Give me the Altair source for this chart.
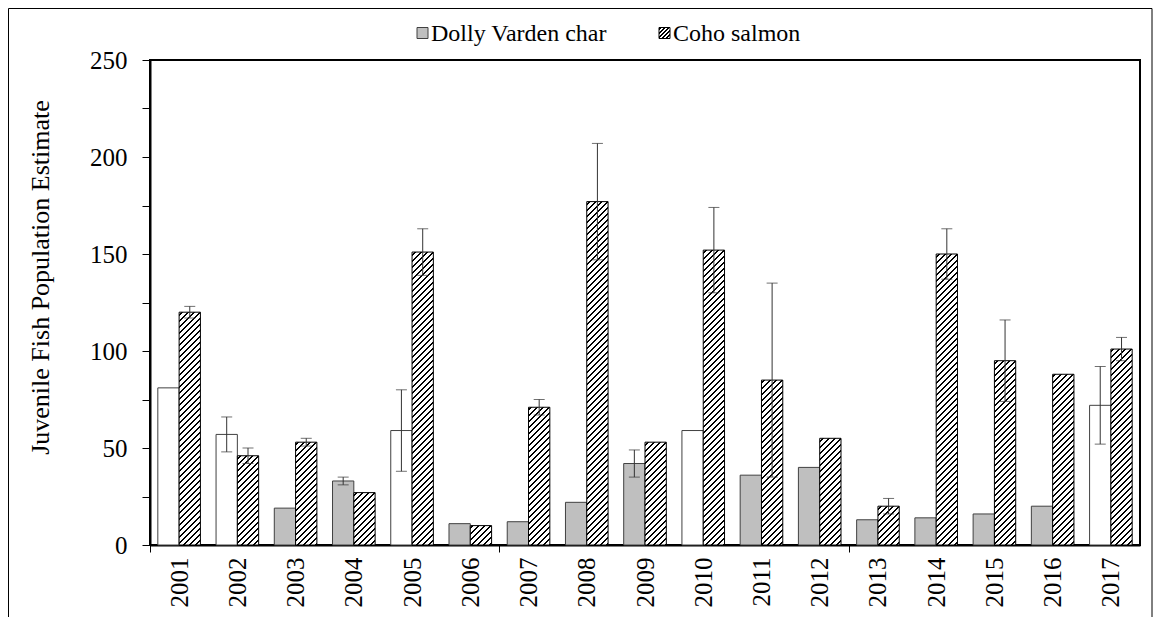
import altair as alt

# ---------------- data ----------------
years = [str(y) for y in range(2001, 2018)]
species = ["Dolly Varden char", "Coho salmon"]

dolly = [81, 57, 19, 33, 59, 11, 12, 22, 42, 59, 36, 40, 13, 14, 16, 20, 72]
dolly_err = [None, 9, None, 2, 21, None, None, None, 7, None, None, None, None, None, None, None, 20]
# True where the Dolly Varden bar is drawn open (white) in the original
dolly_open = [True, True, False, False, True, False, False, False, False, True,
              False, False, False, False, False, False, True]

coho = [120, 46, 53, 27, 151, 10, 71, 177, 53, 152, 85, 55, 20, 150, 95, 88, 101]
coho_err = [3, 4, 2, None, 12, None, 4, 30, None, 22, 50, None, 4, 13, 21, None, 6]

# ---------------- layout constants ----------------
PLOT_W, PLOT_H = 990, 485
Y_MAX = 250
OFF_PAD = 0.367
BAND = PLOT_W / len(years)
BAR_W = BAND / (2 + 2 * OFF_PAD)
PX_PER_UNIT = PLOT_H / Y_MAX
FONT = "Liberation Serif"
GRAY = "#BFBFBF"


def hatch_gradient(w, h, period=6.0, lw=2.0):
    """Diagonal '/' hatching as a hard-stop linear gradient in bbox units."""
    L = w + h
    s = L / (w * w + h * h)
    stops = [{"offset": 0, "color": "white"}]
    c = period / 2.0
    while c - lw / 2 < L:
        a = max(c - lw / 2, 0) / L
        b = min(c + lw / 2, L) / L
        stops += [
            {"offset": round(a, 5), "color": "white"},
            {"offset": round(a, 5), "color": "black"},
            {"offset": round(b, 5), "color": "black"},
            {"offset": round(b, 5), "color": "white"},
        ]
        c += period
    stops.append({"offset": 1, "color": "white"})
    return {"gradient": "linear", "x1": 0, "y1": 0,
            "x2": round(s * w, 6), "y2": round(s * h, 6), "stops": stops}


rows = []
for i, yr in enumerate(years):
    rows.append({"year": yr, "species": species[0], "value": dolly[i],
                 "err": dolly_err[i],
                 "fillv": "white" if dolly_open[i] else GRAY,
                 "strokev": "#404040"})
    rows.append({"year": yr, "species": species[1], "value": coho[i],
                 "err": coho_err[i],
                 "fillv": hatch_gradient(BAR_W, coho[i] * PX_PER_UNIT),
                 "strokev": "black"})

err_rows = [{"year": r["year"], "species": r["species"], "value": r["value"], "err": r["err"]}
            for r in rows if r["err"] is not None]

bars_data = alt.Data(values=rows)
err_data = alt.Data(values=err_rows)

x_enc = alt.X(
    "year:N",
    sort=years,
    title=None,
    scale=alt.Scale(paddingInner=0, paddingOuter=0),
    axis=alt.Axis(
        labelAngle=-90, labelFont=FONT, labelFontSize=25, labelColor="black",
        labelPadding=5, tickSize=7, tickWidth=1, tickBand="extent",
        tickColor={"condition": {"test": "indexof(['2006','2012'], datum.value) >= 0 || datum.extra",
                                 "value": "black"}, "value": "transparent"},
        domainColor="black", domainWidth=2, grid=False,
    ),
)
xoff_enc = alt.XOffset("species:N", sort=species,
                       scale=alt.Scale(paddingOuter=OFF_PAD, paddingInner=0))
y_axis = alt.Axis(
    values=list(range(0, 251, 25)),
    labelExpr="datum.value % 50 === 0 ? datum.label : ''",
    labelFont=FONT, labelFontSize=25, labelColor="black", labelPadding=15,
    tickSize=8, tickColor="black", tickWidth=1,
    domainColor="black", domainWidth=2, grid=False,
    title="Juvenile Fish Population Estimate", titleFont=FONT, titleFontSize=26,
    titleFontWeight="normal", titleColor="black", titlePadding=36,
    titleY=217,
)
y_scale = alt.Scale(domain=[0, Y_MAX], nice=False)

bars = alt.Chart(bars_data).mark_bar(strokeWidth=1).encode(
    x=x_enc,
    xOffset=xoff_enc,
    y=alt.Y("value:Q", stack=None, scale=y_scale, axis=y_axis),
    fill=alt.Fill("fillv:N", scale=None, legend=None),
    stroke=alt.Stroke("strokev:N", scale=None, legend=None),
)

err_base = alt.Chart(err_data).transform_calculate(
    lo="datum.value - datum.err", hi="datum.value + datum.err"
)
err_rule = err_base.mark_rule(color="#333333", strokeWidth=1).encode(
    x=x_enc, xOffset=xoff_enc,
    y=alt.Y("lo:Q", scale=y_scale, axis=y_axis), y2="hi:Q",
)
cap_lo = err_base.mark_tick(color="#333333", thickness=1, size=11, orient="horizontal").encode(
    x=x_enc, xOffset=xoff_enc, y=alt.Y("lo:Q", scale=y_scale, axis=y_axis),
)
cap_hi = err_base.mark_tick(color="#333333", thickness=1, size=11, orient="horizontal").encode(
    x=x_enc, xOffset=xoff_enc, y=alt.Y("hi:Q", scale=y_scale, axis=y_axis),
)

one = alt.Data(values=[{"k": 0}])
B_L, B_R, B_T, B_B = -141.5, PLOT_W + 12.0, -51.5, PLOT_H + 90
border_left = alt.Chart(one).mark_rule(color="black", strokeWidth=1).encode(
    x=alt.value(B_L), y=alt.value(B_T), y2=alt.value(B_B))
border_right = alt.Chart(one).mark_rule(color="black", strokeWidth=1).encode(
    x=alt.value(B_R), y=alt.value(B_T), y2=alt.value(B_B))
border_top = alt.Chart(one).mark_rule(color="black", strokeWidth=1).encode(
    x=alt.value(B_L), x2=alt.value(B_R), y=alt.value(B_T))

LEG_Y = -27
leg_sq1 = alt.Chart(one).mark_rect(stroke="#404040", strokeWidth=1).encode(
    x=alt.value(267), x2=alt.value(278), y=alt.value(LEG_Y - 5.5), y2=alt.value(LEG_Y + 5.5),
    fill=alt.value(GRAY),
)
leg_tx1 = alt.Chart(one).mark_text(align="left", baseline="middle", font=FONT,
                                   fontSize=24, color="black").encode(
    x=alt.value(281), y=alt.value(LEG_Y + 1), text=alt.value("Dolly Varden char"),
)
leg_sq2 = alt.Chart(one).mark_rect(stroke="black", strokeWidth=1).encode(
    x=alt.value(509), x2=alt.value(520), y=alt.value(LEG_Y - 5.5), y2=alt.value(LEG_Y + 5.5),
    fill=alt.value(hatch_gradient(11, 11, period=4.0, lw=1.6)),
)
leg_tx2 = alt.Chart(one).mark_text(align="left", baseline="middle", font=FONT,
                                   fontSize=24, color="black").encode(
    x=alt.value(523), y=alt.value(LEG_Y + 1), text=alt.value("Coho salmon"),
)

chart = alt.layer(
    border_left, border_right, border_top,
    bars, err_rule, cap_lo, cap_hi, leg_sq1, leg_tx1, leg_sq2, leg_tx2
).properties(
    width=PLOT_W, height=PLOT_H,
    padding={"left": 142, "top": 52, "right": 13, "bottom": 80},
    autosize=alt.AutoSizeParams(type="none"),
    background="white",
).configure_view(
    stroke="black", strokeWidth=2
)

chart.save("out.html", embed_options={"renderer": "svg", "actions": False})
